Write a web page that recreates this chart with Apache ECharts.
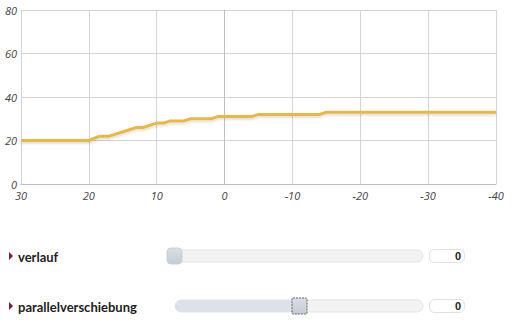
<!DOCTYPE html>
<html><head><meta charset="utf-8">
<script src="https://cdn.jsdelivr.net/npm/echarts@6/dist/echarts.min.js"></script>
<style>html,body{margin:0;padding:0;background:#fff}#c{width:517px;height:327px}</style>
</head><body><div id="c"></div>
<script>
const xValues = [30, 20, 18.4, 17, 13, 12, 10, 9, 8, 6, 5, 2, 1, -4, -5, -14, -15, -40];
const yValues = [20, 20, 22, 22, 26, 26, 28, 28, 29, 29, 30, 30, 31, 31, 32, 32, 33, 33];
const xTicks = [-40, -30, -20, -10, 0, 10, 20, 30];
const yTicks = [0, 20, 40, 60, 80];
const controlLabels = ['verlauf', 'parallelverschiebung'];
const controlValues = ['0', '0'];

const chart = echarts.init(document.getElementById('c'), null, {renderer: 'svg'});
const labelFont = {fontFamily: 'Lato, "Open Sans", sans-serif', fontWeight: 'bold', fontSize: 13, fill: '#222'};

const graphics = [];
const rows = [{y: 256, trackX: 168, handleX: 167, filled: false}, {y: 306, trackX: 175, handleX: 292, filled: true}];
rows.forEach((r, i) => {
  graphics.push({type: 'polygon', shape: {points: [[9, r.y - 4], [13, r.y], [9, r.y + 4]]}, style: {fill: '#7a1c2c'}});
  graphics.push({type: 'text', x: 18, y: r.y + 1, style: Object.assign({text: controlLabels[i], verticalAlign: 'middle'}, labelFont)});
  graphics.push({type: 'rect', shape: {x: r.trackX, y: r.y - 6, width: 423 - r.trackX, height: 12, r: 6}, style: {fill: '#f3f3f3', stroke: '#e4e4e4', lineWidth: 1}});
  if (r.filled) graphics.push({type: 'rect', shape: {x: r.trackX, y: r.y - 6, width: r.handleX - r.trackX + 6, height: 12, r: [6, 0, 0, 6]}, style: {fill: '#dde1e8'}});
  graphics.push({type: 'rect', shape: {x: r.handleX, y: r.y - 8, width: 15, height: 16, r: r.filled ? 1 : 4},
    style: {fill: new echarts.graphic.LinearGradient(0, 0, 0, 1, [{offset: 0, color: '#d9dfe6'}, {offset: 1, color: '#c3ccd6'}]),
      stroke: r.filled ? '#666' : '#c9d1db', lineWidth: 1, lineDash: r.filled ? [2, 1] : null}});
  graphics.push({type: 'rect', shape: {x: 429.5, y: r.y - 6.5, width: 35, height: 13, r: 5}, style: {fill: '#fff', stroke: '#e0e0e0', lineWidth: 1}});
  graphics.push({type: 'text', x: 461, y: r.y, style: Object.assign({}, labelFont, {text: controlValues[i], align: 'right', verticalAlign: 'middle', fontSize: 11, fontFamily: 'Arial, "Liberation Sans", sans-serif'})});
});

chart.setOption({
  animation: false,
  grid: {left: 21, right: 21, top: 10, bottom: 143, containLabel: false},
  xAxis: {
    type: 'value', inverse: true, min: -40, max: 30, interval: 10,
    axisLine: {show: true, lineStyle: {color: '#c0c0c0'}},
    axisTick: {show: false},
    splitLine: {show: true, lineStyle: {color: '#d4d4d4'}},
    axisLabel: {color: '#444', fontStyle: 'italic', fontSize: 11, lineHeight: 11, fontFamily: '"Open Sans", sans-serif', margin: 6,
      formatter: v => xTicks.includes(v) ? String(v) : ''}
  },
  yAxis: {
    type: 'value', min: 0, max: 80, interval: 20,
    axisLine: {show: true, lineStyle: {color: '#c0c0c0'}},
    axisTick: {show: false},
    splitLine: {show: true, lineStyle: {color: '#d4d4d4'}},
    axisLabel: {color: '#444', fontStyle: 'italic', fontSize: 11, lineHeight: 11, fontFamily: '"Open Sans", sans-serif', margin: 4,
      formatter: v => yTicks.includes(v) ? String(v) : ''}
  },
  series: [{
    type: 'line', showSymbol: false,
    data: xValues.map((x, i) => [x, yValues[i]]),
    lineStyle: {color: '#e9b843', width: 3, shadowColor: 'rgba(0,0,0,0.12)', shadowBlur: 2, shadowOffsetY: 2}
  }],
  graphic: graphics
});
</script></body></html>
